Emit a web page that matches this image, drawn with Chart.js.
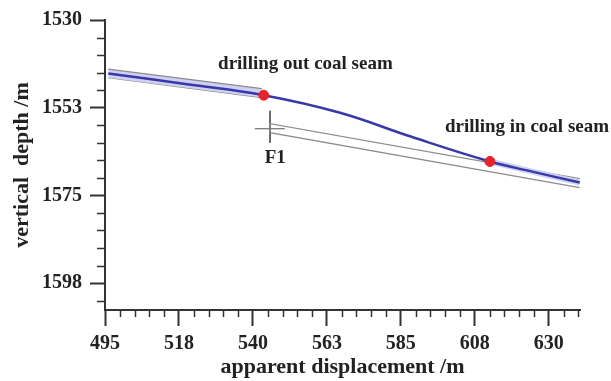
<!DOCTYPE html>
<html>
<head>
<meta charset="utf-8">
<script src="https://cdn.jsdelivr.net/npm/chart.js@4"></script>
<style>
  html, body { margin: 0; padding: 0; background: #fff; }
</style>
</head>
<body>
<canvas id="chart" width="611" height="381"></canvas>
<script>
// axis ticks
const xTicks = [495, 517.5, 540, 562.5, 585, 607.5, 630];
const xTickLabels = ["495", "518", "540", "563", "585", "608", "630"];
const yTicks = [1530, 1552.5, 1575, 1597.5];
const yTickLabels = ["1530", "1553", "1575", "1598"];

// well trajectory (apparent displacement, vertical depth)
const trackX = [496, 520, 543.3, 566.5, 588, 612.1, 625, 639.4];
const trackY = [1543.7, 1546.5, 1549.3, 1553.8, 1559.9, 1566.3, 1568.9, 1571.7];

// coal seam roof / floor, left of fault F1
const seamLeftX = [496, 542.7];
const seamLeftTop = [1542.6, 1547.6];
const seamLeftBottom = [1544.8, 1549.9];

// coal seam right of fault F1 (floor -> fault -> roof)
const seamRightX = [639.4, 545.2, 545.2, 639.4];
const seamRightY = [1573.0, 1558.9, 1556.6, 1570.7];

// fault F1 marker
const faultHX = [540.6, 549.7];
const faultHY = [1557.9, 1557.9];
const faultVX = [545.2, 545.2];
const faultVY = [1553.3, 1561.5];

// points where the bit leaves / enters the seam
const keyX = [543.3, 612.1];
const keyY = [1549.3, 1566.3];

// text notes
const noteText = ["drilling out coal seam", "drilling in coal seam", "F1"];
const noteX = [529.4, 598.4, 543.6];
const noteY = [1541.3, 1557.4, 1565.5];

const minorStep = 4.5;

function pts(xs, ys) {
  return xs.map((x, i) => ({ x: x, y: ys[i] }));
}

const serif = '"Liberation Serif", "Times New Roman", serif';
const inkColor = "#222";
const axisColor = "#333";

const extrasPlugin = {
  id: "extras",
  afterDraw(chart) {
    const ctx = chart.ctx;
    const xs = chart.scales.x;
    const ys = chart.scales.y;
    ctx.save();
    // minor ticks
    ctx.strokeStyle = axisColor;
    ctx.lineWidth = 1.5;
    ctx.beginPath();
    for (let v = xs.min; v <= xs.max + 0.01; v += minorStep) {
      if (xTicks.some(t => Math.abs(t - v) < 0.01)) continue;
      const px = Math.round(xs.getPixelForValue(v)) + 0.5;
      ctx.moveTo(px, xs.top);
      ctx.lineTo(px, xs.top + 7);
    }
    for (let v = ys.min; v <= ys.max + 0.01; v += minorStep) {
      if (yTicks.some(t => Math.abs(t - v) < 0.01)) continue;
      const py = Math.round(ys.getPixelForValue(v)) + 0.5;
      ctx.moveTo(ys.right, py);
      ctx.lineTo(ys.right - 8, py);
    }
    ctx.stroke();
    // notes
    ctx.fillStyle = inkColor;
    ctx.font = "bold 19px " + serif;
    ctx.textAlign = "left";
    ctx.textBaseline = "middle";
    noteText.forEach((t, i) => {
      ctx.fillText(t, xs.getPixelForValue(noteX[i]), ys.getPixelForValue(noteY[i]));
    });
    ctx.restore();
  }
};

const grayLine = {
  type: "line",
  borderColor: "#8c8c8c",
  borderWidth: 1.2,
  pointRadius: 0,
  fill: false,
  order: 3
};

new Chart(document.getElementById("chart"), {
  type: "line",
  data: {
    datasets: [
      {
        label: "key points",
        type: "scatter",
        data: pts(keyX, keyY),
        backgroundColor: "#e3252b",
        borderColor: "#e3252b",
        pointRadius: 5,
        order: 0
      },
      {
        label: "trajectory",
        data: pts(trackX, trackY),
        borderColor: "#3838a8",
        borderWidth: 2.5,
        pointRadius: 0,
        tension: 0.4,
        fill: false,
        order: 1
      },
      {
        label: "halo",
        data: pts(trackX.slice(5), trackY.slice(5)),
        borderColor: "#cfd1f3",
        borderWidth: 6,
        pointRadius: 0,
        fill: false,
        order: 2
      },
      Object.assign({}, grayLine, {
        label: "seam roof",
        data: pts(seamLeftX, seamLeftTop),
        fill: "+1",
        backgroundColor: "#cfd1f3"
      }),
      Object.assign({}, grayLine, {
        label: "seam floor",
        data: pts(seamLeftX, seamLeftBottom)
      }),
      Object.assign({}, grayLine, {
        label: "seam right",
        data: pts(seamRightX, seamRightY)
      }),
      Object.assign({}, grayLine, {
        label: "fault h",
        data: pts(faultHX, faultHY),
        borderColor: "#555",
        borderWidth: 1
      }),
      Object.assign({}, grayLine, {
        label: "fault v",
        data: pts(faultVX, faultVY),
        borderColor: "#555",
        borderWidth: 1
      })
    ]
  },
  options: {
    responsive: false,
    animation: false,
    layout: { padding: { top: 19, right: 31, left: 0, bottom: 0 } },
    plugins: {
      legend: { display: false },
      tooltip: { enabled: false }
    },
    scales: {
      x: {
        type: "linear",
        min: 495,
        max: 639.5,
        afterBuildTicks: s => { s.ticks = xTicks.map(v => ({ value: v })); },
        afterFit: s => { s.height = 71; },
        ticks: {
          callback: (v, i) => xTickLabels[i],
          font: { family: serif, size: 20, weight: "bold" },
          color: inkColor,
          padding: 6,
          maxRotation: 0
        },
        grid: { drawOnChartArea: false, tickLength: 16, tickColor: axisColor, tickWidth: 2 },
        border: { color: axisColor, width: 2 },
        title: {
          display: true,
          text: "apparent displacement /m",
          font: { family: serif, size: 22, weight: "bold" },
          color: inkColor,
          padding: { top: 0, bottom: 0 }
        }
      },
      y: {
        type: "linear",
        reverse: true,
        min: 1530,
        max: 1604.4,
        afterBuildTicks: s => { s.ticks = yTicks.map(v => ({ value: v })); },
        afterFit: s => { s.width = 105; },
        ticks: {
          callback: (v, i) => yTickLabels[i],
          font: { family: serif, size: 20, weight: "bold" },
          color: inkColor,
          padding: 8
        },
        grid: { drawOnChartArea: false, tickLength: 15, tickColor: axisColor, tickWidth: 2 },
        border: { color: axisColor, width: 2 },
        title: {
          display: true,
          text: "vertical  depth /m",
          font: { family: serif, size: 22, weight: "bold" },
          color: inkColor,
          padding: { top: 9, bottom: 0 }
        }
      }
    }
  },
  plugins: [extrasPlugin]
});
</script>
</body>
</html>
